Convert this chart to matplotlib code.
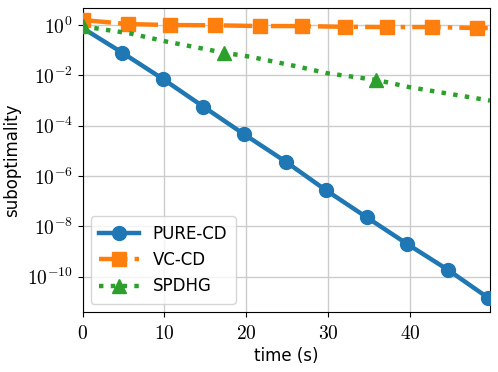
import matplotlib
matplotlib.use("Agg")
import matplotlib.pyplot as plt
from matplotlib.ticker import FuncFormatter, FixedLocator, NullLocator
import numpy as np

plt.rcParams['mathtext.fontset'] = 'cm'
plt.rcParams['font.family'] = ['DejaVu Sans']

# PURE-CD
pure_t = [0.0, 4.85, 9.85, 14.75, 19.75, 24.8, 29.7, 34.7, 39.7, 44.7, 49.6]
pure_logy = [-0.12, -1.10, -2.15, -3.24, -4.34, -5.42, -6.55, -7.63, -8.70, -9.73, -10.84]

# VC-CD
vc_t = [0.0, 5.5, 10.7, 16.2, 21.7, 26.8, 32.1, 37.2, 42.7, 48.2, 49.8]
vc_logy = [0.2, 0.04, 0.0, -0.01, -0.04, -0.04, -0.07, -0.08, -0.08, -0.12, -0.12]

# SPDHG
sp_t = [0.0, 5.75, 10.3, 17.3, 20.5, 26.3, 30.0, 35.9, 40.0, 49.8]
sp_logy = [-0.05, -0.33, -0.66, -1.10, -1.26, -1.65, -1.92, -2.18, -2.47, -3.0]
sp_marks = [0, 3, 7]

fig = plt.figure(figsize=(4.98, 3.72), dpi=100)
ax = fig.add_axes([0.166, 0.161, 0.818, 0.817])

ax.plot(pure_t, 10.0 ** np.array(pure_logy), color='#1f77b4', lw=3.2, marker='o',
        ms=10, markevery=list(range(1, len(pure_t))), label='PURE-CD', zorder=3)
ax.plot(vc_t, 10.0 ** np.array(vc_logy), color='#ff7f0e', lw=3.2, ls='-.', marker='s',
        ms=10, markevery=list(range(0, len(vc_t) - 1)), label='VC-CD', zorder=3)
ax.plot(sp_t, 10.0 ** np.array(sp_logy), color='#2ca02c', lw=3.2, ls=':', marker='^',
        ms=10, markevery=sp_marks, label='SPDHG', zorder=3)

ax.set_yscale('log')
ax.set_xlim(0, 49.8)
ax.set_ylim(10 ** -11.4, 10 ** 0.67)
ax.yaxis.set_major_locator(FixedLocator([10.0 ** k for k in range(-10, 1, 2)]))
ax.yaxis.set_minor_locator(NullLocator())
ax.yaxis.set_major_formatter(FuncFormatter(lambda v, p: r'$10^{%d}$' % int(round(np.log10(v)))))
ax.xaxis.set_major_locator(FixedLocator([0, 10, 20, 30, 40]))
ax.xaxis.set_major_formatter(FuncFormatter(lambda v, p: r'$%d$' % int(round(v))))
ax.tick_params(labelsize=14)
ax.tick_params(axis='x', pad=5)
ax.grid(True, color='#cccccc', lw=1.0)
ax.set_axisbelow(True)
ax.set_xlabel('time (s)', fontsize=12, labelpad=3)
ax.set_ylabel('suboptimality', fontsize=12)
ax.legend(loc='lower left', fontsize=12, handlelength=2.4, borderpad=0.5)

fig.savefig('out.png', dpi=100)
